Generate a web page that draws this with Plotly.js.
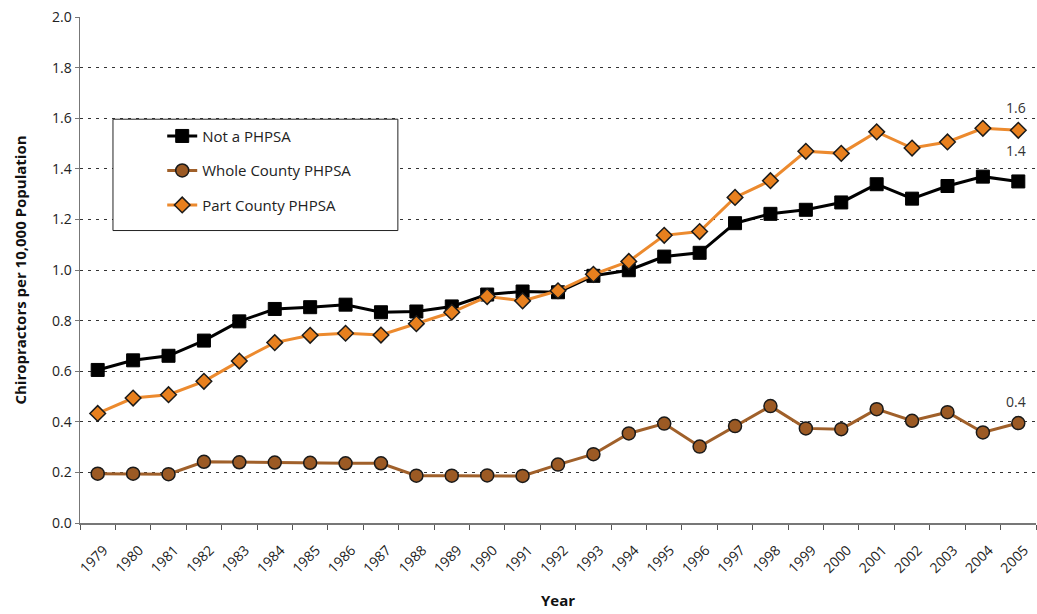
<!DOCTYPE html>
<html>
<head>
<meta charset="utf-8">
<script src="https://cdn.plot.ly/plotly-3.0.1.min.js"></script>
<style>body{margin:0;background:#fff}#chart{width:1037px;height:614px}</style>
</head>
<body>
<div id="chart"></div>
<script>
const years = ["1979","1980","1981","1982","1983","1984","1985","1986","1987","1988","1989","1990","1991","1992","1993","1994","1995","1996","1997","1998","1999","2000","2001","2002","2003","2004","2005"];
const notPHPSA = [0.605,0.643,0.661,0.721,0.797,0.846,0.853,0.863,0.833,0.836,0.856,0.903,0.915,0.912,0.977,0.999,1.053,1.068,1.185,1.222,1.238,1.267,1.339,1.282,1.332,1.369,1.350];
const wholeCounty = [0.195,0.195,0.193,0.242,0.240,0.239,0.238,0.236,0.236,0.187,0.187,0.188,0.186,0.231,0.272,0.354,0.393,0.302,0.383,0.462,0.374,0.371,0.450,0.404,0.438,0.358,0.395];
const partCounty = [0.433,0.494,0.507,0.560,0.640,0.713,0.742,0.750,0.743,0.788,0.833,0.895,0.878,0.918,0.983,1.034,1.137,1.152,1.287,1.353,1.469,1.461,1.546,1.482,1.506,1.560,1.552];
const seriesNames = ["Not a PHPSA","Whole County PHPSA","Part County PHPSA"];
const yTicks = [0,0.2,0.4,0.6,0.8,1.0,1.2,1.4,1.6,1.8,2.0];

const FONT = "Open Sans, Noto Sans, DejaVu Sans, sans-serif";
const last = years.length - 1;

const traces = [
  {x: years, y: notPHPSA, name: seriesNames[0], type: "scatter", mode: "lines+markers", legendgroup: "a",
   line: {color: "#000000", width: 3}, marker: {symbol: "square", size: 13, color: "#000000", line: {color: "#000000", width: 1}}},
  {x: years, y: wholeCounty, name: seriesNames[1], type: "scatter", mode: "lines+markers", legendgroup: "b",
   line: {color: "#a0602a", width: 3}, marker: {symbol: "circle", size: 13, color: "#9c5a24", line: {color: "#1a1a1a", width: 1.5}}},
  {x: years, y: partCounty, name: seriesNames[2], type: "scatter", mode: "lines+markers", legendgroup: "c",
   line: {color: "#ec8a2e", width: 3}, marker: {symbol: "diamond", size: 12, color: "#e8801e", line: {color: "#1a1a1a", width: 1.5}}}
];

const labelShifts = [23, 31, 22];
const endLabels = [partCounty, notPHPSA, wholeCounty].map((arr, i) => ({
  x: last, y: arr[last], xref: "x", yref: "y", text: arr[last].toFixed(1),
  showarrow: false, yshift: labelShifts[i], xshift: -2, font: {family: FONT, size: 14, color: "#333"}
}));

const layout = {
  width: 1037, height: 614,
  margin: {l: 80, r: 1, t: 17, b: 91},
  paper_bgcolor: "#fff", plot_bgcolor: "#fff",
  font: {family: FONT, size: 13, color: "#222"},
  showlegend: true,
  legend: {x: 0.086, xanchor: "left", y: 0.797, yanchor: "top", bgcolor: "rgba(0,0,0,0)",
           borderwidth: 0, traceorder: "grouped", tracegroupgap: 12,
           font: {family: FONT, size: 15, color: "#222"}},
  xaxis: {type: "category", tickangle: -45, ticks: "outside", ticklen: 5, tickcolor: "#555",
          tickson: "boundaries", showline: true, linecolor: "#777", linewidth: 1.5, showgrid: false,
          zeroline: false, range: [-0.5, years.length - 0.5], tickfont: {size: 14, color: "#222"},
          ticklabelstandoff: 12, ticklabelshift: 6,
          title: {text: "Year", font: {family: FONT, size: 15, color: "#111", weight: "bold"}, standoff: 20}},
  yaxis: {range: [0, 2.0], tickvals: yTicks, ticktext: yTicks.map(v => v.toFixed(1)), ticks: "outside",
          ticklen: 4, tickcolor: "#777", showline: true, linecolor: "#777", linewidth: 1.5,
          showgrid: true, gridcolor: "#333", griddash: "3px,5px", gridwidth: 1, zeroline: false,
          tickfont: {size: 14, color: "#222"},
          title: {text: "Chiropractors per 10,000 Population", font: {family: FONT, size: 15, color: "#111", weight: "bold"}, standoff: 22}},
  shapes: [{type: "rect", xref: "paper", yref: "paper", x0: 0.0345, x1: 0.3325, y0: 0.578, y1: 0.798,
            line: {color: "#222", width: 1}, fillcolor: "#fff", layer: "above"}],
  annotations: endLabels
};

Plotly.newPlot("chart", traces, layout, {displayModeBar: false, staticPlot: true});
</script>
</body>
</html>
